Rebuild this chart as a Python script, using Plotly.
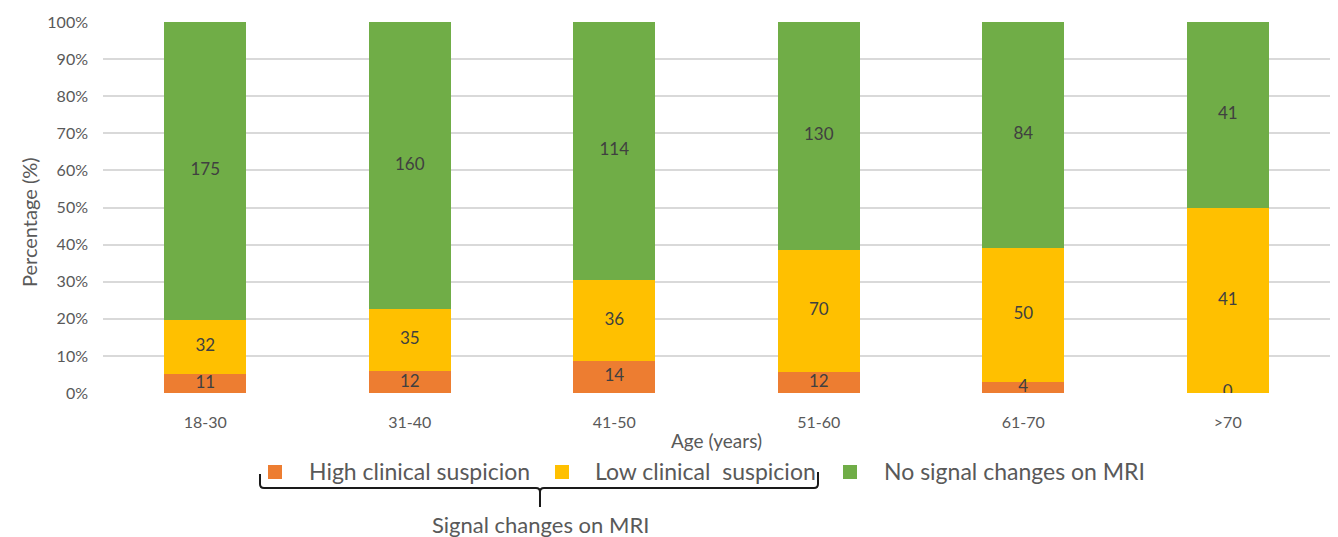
import numpy as np
import plotly.graph_objects as go

# Age groups and patient counts per MRI category
age_groups = ["18-30", "31-40", "41-50", "51-60", "61-70", ">70"]
high_suspicion = [11, 12, 14, 12, 4, 0]
low_suspicion = [32, 35, 36, 70, 50, 41]
no_changes = [175, 160, 114, 130, 84, 41]

series_names = ["High clinical suspicion", "Low clinical  suspicion", "No signal changes on MRI"]
series_values = [high_suspicion, low_suspicion, no_changes]
series_colors = ["#ED7D31", "#FFC000", "#70AD47"]

y_ticks = list(range(0, 101, 10))
y_tick_labels = [f"{v}%" for v in y_ticks]

W, H = 1338, 537
ML, MR, MT, MB = 103, 8, 22, 144
PW, PH = W - ML - MR, H - MT - MB
FONT = "Lato, Calibri, sans-serif"
TXT = "#595959"


def px_x(x):
    return (x - ML) / PW


def px_y(y):
    return (H - MB - y) / PH


fig = go.Figure()

for name, vals, col in zip(series_names, series_values, series_colors):
    fig.add_trace(go.Bar(
        x=age_groups, y=vals, name=name, marker=dict(color=col, line=dict(width=0)),
        width=0.4, showlegend=False, hoverinfo="x+y+name",
    ))

# value labels centred in each stacked segment
counts = np.array(series_values, dtype=float)
shares = counts / counts.sum(axis=0) * 100
tops = np.cumsum(shares, axis=0)
mids = tops - shares / 2
for i, vals in enumerate(series_values):
    fig.add_trace(go.Scatter(
        x=age_groups, y=mids[i], mode="text", text=[str(v) for v in vals],
        textfont=dict(family=FONT, size=17, color="#404040"),
        showlegend=False, hoverinfo="skip",
    ))

fig.update_layout(
    width=W, height=H,
    margin=dict(l=ML, r=MR, t=MT, b=MB),
    barmode="stack", barnorm="percent",
    plot_bgcolor="white", paper_bgcolor="white",
    font=dict(family=FONT, color=TXT),
    showlegend=False,
    xaxis=dict(
        showgrid=False, showline=False, zeroline=False, ticks="",
        tickfont=dict(size=16, color=TXT), ticklabelstandoff=18,
        title=dict(text="Age (years)", font=dict(size=19, color=TXT), standoff=4),
    ),
    yaxis=dict(
        range=[0, 100], tickmode="array", tickvals=y_ticks, ticktext=y_tick_labels,
        showgrid=True, gridcolor="#D9D9D9", gridwidth=2,
        zeroline=False, showline=False, ticks="",
        tickfont=dict(size=16, color=TXT), ticklabelstandoff=14,
    ),
)

annotations = [
    dict(text="Percentage (%)", x=px_x(15), y=px_y(222), textangle=-90,
         font=dict(size=20, color=TXT)),
    dict(text="Signal changes on MRI", x=px_x(540), y=px_y(524),
         font=dict(size=22, color=TXT)),
]
shapes = []

# custom legend row
legend_square_x = [275, 562, 850]
legend_text_x = [307, 593, 882]
legend_y = 472
for name, col, sx, tx in zip(series_names, series_colors, legend_square_x, legend_text_x):
    shapes.append(dict(type="rect", xref="paper", yref="paper",
                       x0=px_x(sx - 7), x1=px_x(sx + 7), y0=px_y(legend_y - 7), y1=px_y(legend_y + 7),
                       fillcolor=col, line=dict(width=0)))
    annotations.append(dict(text=name, x=px_x(tx), y=px_y(legend_y - 1), xanchor="left",
                            font=dict(size=23, color=TXT)))

# curly brace grouping the two signal-change categories
pts = [
    ("M", 260, 474), ("L", 260, 484), ("Q", 260, 488, 264, 488), ("L", 536, 488),
    ("Q", 540, 488, 540, 492), ("L", 540, 507), ("M", 540, 492), ("Q", 540, 488, 544, 488),
    ("L", 814, 488), ("Q", 818, 488, 818, 484), ("L", 818, 472),
]
path = ""
for p in pts:
    cmd, coords = p[0], p[1:]
    xy = []
    for k in range(0, len(coords), 2):
        xy.append(f"{px_x(coords[k]):.5f},{px_y(coords[k + 1]):.5f}")
    path += cmd + " " + " ".join(xy) + " "
shapes.append(dict(type="path", xref="paper", yref="paper", path=path.strip(),
                   line=dict(color="#1a1a1a", width=2)))

for a in annotations:
    a.setdefault("xref", "paper")
    a.setdefault("yref", "paper")
    a.setdefault("showarrow", False)
    a.setdefault("yanchor", "middle")
fig.update_layout(annotations=annotations, shapes=shapes)

fig.write_html("out.html")
